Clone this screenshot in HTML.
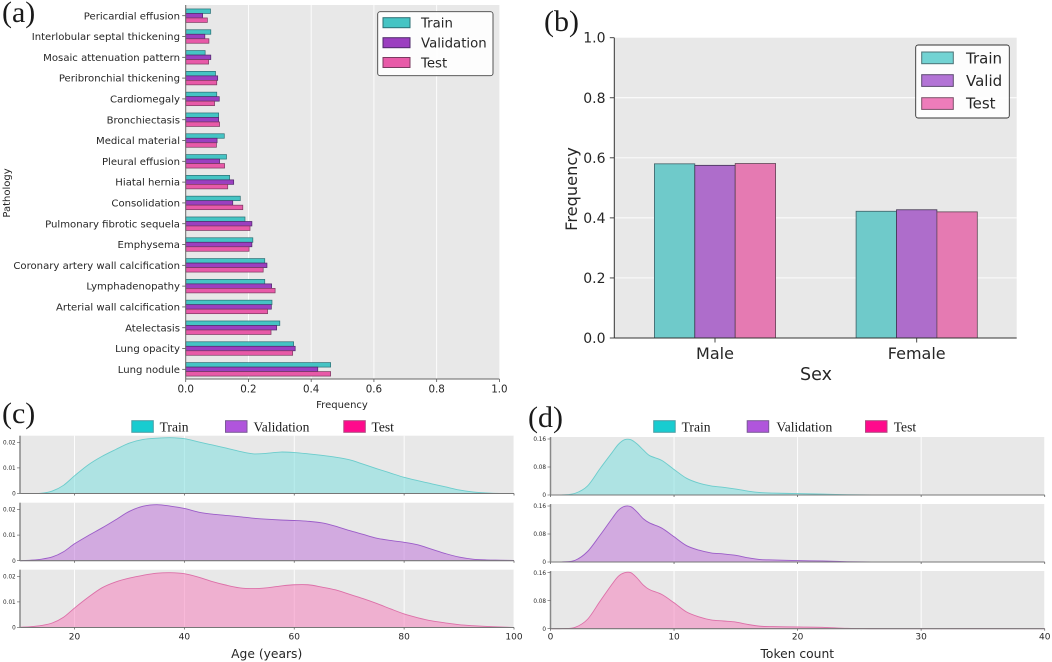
<!DOCTYPE html>
<html>
<head>
<meta charset="utf-8">
<title>Dataset distribution figure</title>
<style>
html,body{margin:0;padding:0;background:#fff;width:1052px;height:662px;overflow:hidden}
svg{display:block;filter:blur(0.35px)}
text{font-family:"DejaVu Sans","Liberation Sans",sans-serif;fill:#262626}
.serif{font-family:"Liberation Serif",serif;fill:#1a1a1a}
</style>
</head>
<body>
<svg id="fig" xmlns="http://www.w3.org/2000/svg" width="1052" height="662" viewBox="0 0 1052 662">
  <g id="pa"></g>
  <g id="pb"></g>
  <g id="pc"></g>
  <g id="pd"></g>

  <text class="serif" x="2" y="22" font-size="30">(a)</text>
  <text class="serif" x="544" y="31" font-size="30">(b)</text>
  <text class="serif" x="2" y="423" font-size="30">(c)</text>
  <text class="serif" x="528" y="427" font-size="30">(d)</text>

  <text x="342" y="408" font-size="10" text-anchor="middle">Frequency</text>
  <text transform="translate(10,193) rotate(-90)" font-size="10" text-anchor="middle">Pathology</text>
  <text x="816" y="380" font-size="17.5" text-anchor="middle">Sex</text>
  <text transform="translate(577,189) rotate(-90)" font-size="16.2" text-anchor="middle">Frequency</text>
  <text x="266.7" y="658" font-size="12.3" text-anchor="middle">Age (years)</text>
  <text x="797.3" y="658" font-size="12.3" text-anchor="middle">Token count</text>

  <g>
    <rect x="377.7" y="11.7" width="115.3" height="64" rx="2.5" fill="#fff" fill-opacity="0.9" stroke="#444" stroke-width="0.9"/>
    <rect x="383" y="17.7" width="27" height="10" fill="#45c4c4" stroke="#2b6f74"/>
    <text x="421" y="27.5" font-size="13.3">Train</text>
    <rect x="383" y="37.7" width="27" height="10" fill="#9b3fc0" stroke="#4f2a6a"/>
    <text x="421" y="47.5" font-size="13.3">Validation</text>
    <rect x="383" y="57.5" width="27" height="10" fill="#e85aa8" stroke="#7a3a60"/>
    <text x="421" y="67.5" font-size="13.3">Test</text>
  </g>

  <g>
    <rect x="915.7" y="45" width="93.6" height="73" rx="2.5" fill="#fff" fill-opacity="0.9" stroke="#333" stroke-width="0.9"/>
    <rect x="921.7" y="52" width="31.6" height="11.7" fill="#72d3d3" stroke="#4d7276"/>
    <text x="966" y="63.5" font-size="15">Train</text>
    <rect x="921.7" y="74.7" width="31.6" height="11.7" fill="#b374d6" stroke="#5d4a70"/>
    <text x="966" y="86" font-size="15">Valid</text>
    <rect x="921.7" y="97.7" width="31.6" height="11.7" fill="#ee7cba" stroke="#7a5068"/>
    <text x="966" y="108.5" font-size="15">Test</text>
  </g>

  <g>
    <rect x="131.8" y="420.7" width="21.5" height="11.6" fill="#18ccd0" stroke="#4a9ea5"/>
    <text class="serif" x="159.6" y="431.5" font-size="13.6">Train</text>
    <rect x="225.5" y="420.7" width="21.5" height="11.6" fill="#b055dc" stroke="#7a5a96"/>
    <text class="serif" x="253.5" y="431.5" font-size="13.6">Validation</text>
    <rect x="343.8" y="420.7" width="21.5" height="11.6" fill="#ff0a8c" stroke="#b04a80"/>
    <text class="serif" x="371.5" y="431.5" font-size="13.6">Test</text>
  </g>

  <g>
    <rect x="653.7" y="420.7" width="21.5" height="11.6" fill="#18ccd0" stroke="#4a9ea5"/>
    <text class="serif" x="681.6" y="431.5" font-size="13.6">Train</text>
    <rect x="747.2" y="420.7" width="21.5" height="11.6" fill="#b055dc" stroke="#7a5a96"/>
    <text class="serif" x="776.4" y="431.5" font-size="13.6">Validation</text>
    <rect x="865.5" y="420.7" width="21.5" height="11.6" fill="#ff0a8c" stroke="#b04a80"/>
    <text class="serif" x="893.7" y="431.5" font-size="13.6">Test</text>
  </g>
</svg>

<script>
// ---- panel (a) data, listed top to bottom ----
const pathologies = ["Pericardial effusion","Interlobular septal thickening","Mosaic attenuation pattern","Peribronchial thickening","Cardiomegaly","Bronchiectasis","Medical material","Pleural effusion","Hiatal hernia","Consolidation","Pulmonary fibrotic sequela","Emphysema","Coronary artery wall calcification","Lymphadenopathy","Arterial wall calcification","Atelectasis","Lung opacity","Lung nodule"];
const pathologyTrain = [0.079,0.080,0.062,0.095,0.099,0.105,0.123,0.130,0.140,0.174,0.189,0.214,0.252,0.252,0.275,0.300,0.344,0.462];
const pathologyValidation = [0.054,0.061,0.080,0.102,0.107,0.105,0.100,0.108,0.153,0.150,0.211,0.211,0.259,0.274,0.273,0.290,0.349,0.421];
const pathologyTest = [0.069,0.074,0.073,0.099,0.092,0.108,0.098,0.124,0.134,0.182,0.205,0.202,0.247,0.285,0.261,0.272,0.341,0.462];
const frequencyTicks = [0,0.2,0.4,0.6,0.8,1];

// ---- panel (b) data ----
const sexes = ["Male","Female"];
const sexTrain = [0.580,0.422];
const sexValid = [0.575,0.427];
const sexTest = [0.581,0.420];

// ---- panel (c) data ----
const ages = [10,12,14,16,18,20,22.5,25,27.5,30,32.5,35,37.5,40,42.5,45,47.5,50,52.5,55,57.5,60,62.5,65,67.5,70,72.5,75,77.5,80,82.5,85,87.5,90,92.5,95,97.5,100];
const ageTrain = [0,0,0.0001,0.001,0.0032,0.0069,0.0112,0.0145,0.0172,0.0197,0.0211,0.0216,0.0218,0.0214,0.0202,0.019,0.0178,0.0165,0.0155,0.0157,0.0162,0.016,0.0155,0.0149,0.0142,0.0132,0.0115,0.0097,0.008,0.0063,0.005,0.0038,0.0026,0.0014,0.0006,0.0002,0,0];
const ageValidation = [0,0.0002,0.0006,0.0015,0.0035,0.0066,0.0098,0.0128,0.016,0.0193,0.0213,0.0219,0.0213,0.0204,0.019,0.0182,0.0177,0.0172,0.0166,0.0162,0.0159,0.0157,0.0154,0.0148,0.0135,0.0118,0.0103,0.0088,0.0079,0.0072,0.0062,0.0045,0.0028,0.0014,0.0006,0.0003,0.0002,0.0001];
const ageTest = [0.0001,0.0003,0.0008,0.0018,0.004,0.0076,0.0118,0.0155,0.0178,0.0193,0.0204,0.0212,0.0214,0.021,0.0197,0.018,0.0166,0.0155,0.0152,0.0155,0.0162,0.0167,0.0167,0.0158,0.0147,0.013,0.0113,0.0094,0.0073,0.0053,0.0038,0.0026,0.0018,0.0011,0.0007,0.0004,0.0002,0];
const ageTicks = [20,40,60,80,100];
const ageDensityTicks = [0,0.01,0.02];
const ageDensityLabels = ["0","0.01","0.02"];

// ---- panel (d) data ----
const tokens = [0,1,2,3,4,5,5.5,6,6.5,7,7.5,8,9,10,11,12,13,14,15,16,17,18,20,22,24,26,30,34,40];
const tokenTrain = [0,0.0005,0.005,0.026,0.075,0.122,0.145,0.158,0.158,0.146,0.129,0.113,0.099,0.073,0.048,0.034,0.026,0.022,0.017,0.011,0.007,0.0055,0.004,0.0025,0.001,0.0002,0,0,0];
const tokenValidation = [0,0.0005,0.005,0.03,0.076,0.125,0.148,0.159,0.158,0.143,0.124,0.112,0.097,0.072,0.047,0.034,0.026,0.023,0.019,0.012,0.007,0.006,0.004,0.003,0.001,0.0002,0,0.0003,0];
const tokenTest = [0,0.0004,0.004,0.027,0.078,0.128,0.15,0.16,0.16,0.145,0.125,0.112,0.098,0.074,0.048,0.034,0.025,0.022,0.019,0.012,0.007,0.006,0.005,0.004,0.001,0.0002,0,0.0002,0];
const tokenTicks = [0,10,20,30,40];
const tokenDensityTicks = [0,0.08,0.16];
const tokenDensityLabels = ["0","0.08","0.16"];

const NS = "http://www.w3.org/2000/svg";
function mk(parent, tag, attrs, txt){
  const e = document.createElementNS(NS, tag);
  for (const k in attrs) e.setAttribute(k, attrs[k]);
  if (txt !== undefined) e.textContent = txt;
  parent.appendChild(e);
  return e;
}

/* ---------- panel a ---------- */
(function(){
  const g = document.getElementById('pa');
  const L = 185.7, R = 499.4, T = 5, B = 379;
  const xA = v => L + v * (R - L);
  const yA = i => 15.7 + i * 20.802;
  const bg = mk(g,'rect',{x:L,y:T,width:R-L,height:B-T,fill:'#e8e8e8'});
  
  
  frequencyTicks.forEach(t => {
    if (t > 0 && t < 1) {
      const gl = mk(g,'line',{x1:xA(t),x2:xA(t),y1:T,y2:B,stroke:'#fff','stroke-width':0.9});
      
      
    }
  });
  const sets = [[pathologyTrain,'#45c4c4','#2b6f74',-4.5,'train'],[pathologyValidation,'#9b3fc0','#4f2a6a',0,'validation'],[pathologyTest,'#e85aa8','#7a3a60',4.5,'test']];
  sets.forEach(s => {
    s[0].forEach((v,i) => {
      const r = mk(g,'rect',{x:L,y:yA(i)+s[3]-2.25,width:xA(v)-L,height:4.5,fill:s[1],stroke:s[2],'stroke-width':0.7});
      
      
    });
  });
  pathologies.forEach((p,i) => {
    const tk = mk(g,'line',{x1:L-3.5,x2:L,y1:yA(i),y2:yA(i),stroke:'#555','stroke-width':0.8});
    
    
    const lb = mk(g,'text',{x:180,y:yA(i)+3.6,'font-size':10.1,'text-anchor':'end'},p);
    
    
  });
  const sl = mk(g,'line',{x1:L,x2:L,y1:T,y2:B,stroke:'#666','stroke-width':1});
  
  
  const sb = mk(g,'line',{x1:L,x2:R,y1:B,y2:B,stroke:'#666','stroke-width':1});
  
  
  frequencyTicks.forEach(t => {
    const tk = mk(g,'line',{x1:xA(t),x2:xA(t),y1:B,y2:B+3,stroke:'#555','stroke-width':0.8});
    
    
    const lb = mk(g,'text',{x:xA(t),y:392.7,'font-size':10.3,'text-anchor':'middle'},t.toFixed(1));
    
    
  });
})();

/* ---------- panel b ---------- */
(function(){
  const g = document.getElementById('pb');
  const L = 614.3, R = 1016.7, T = 37.7, B = 338;
  const yA = v => B - v * (B - T);
  const xA = i => 715 + i * 201.7;
  const bw = 40.4;
  const bg = mk(g,'rect',{x:L,y:T,width:R-L,height:B-T,fill:'#e8e8e8'});
  
  
  frequencyTicks.forEach(t => {
    if (t > 0 && t < 1) {
      const gl = mk(g,'line',{x1:L,x2:R,y1:yA(t),y2:yA(t),stroke:'#fff','stroke-width':0.9});
      
      
    }
  });
  const sets = [[sexTrain,'#6fcaca','#3f5f66',-1,'train'],[sexValid,'#ae6dcb','#3f3350',0,'valid'],[sexTest,'#e57ab2','#5f4455',1,'test']];
  sets.forEach(s => {
    s[0].forEach((v,i) => {
      const r = mk(g,'rect',{x:xA(i)+s[3]*bw-bw/2,y:yA(v),width:bw,height:B-yA(v),fill:s[1],stroke:s[2],'stroke-width':0.8});
      
      
    });
  });
  const sl = mk(g,'line',{x1:L,x2:L,y1:T,y2:B,stroke:'#333','stroke-width':1});
  
  
  const sb = mk(g,'line',{x1:L,x2:R,y1:B,y2:B,stroke:'#333','stroke-width':1});
  
  
  frequencyTicks.forEach(t => {
    const tk = mk(g,'line',{x1:L-4.5,x2:L,y1:yA(t),y2:yA(t),stroke:'#333','stroke-width':0.9});
    
    
    const lb = mk(g,'text',{x:605.5,y:yA(t)+5,'font-size':14,'text-anchor':'end'},t.toFixed(1));
    
    
  });
  sexes.forEach((s,i) => {
    const tk = mk(g,'line',{x1:xA(i),x2:xA(i),y1:B,y2:B+4.5,stroke:'#333','stroke-width':0.9});
    
    
    const lb = mk(g,'text',{x:xA(i),y:359,'font-size':16,'text-anchor':'middle'},s);
    
    
  });
})();

/* ---------- density panels ---------- */
function curvePath(xs, ys){
  let d = 'M' + xs[0].toFixed(2) + ' ' + ys[0].toFixed(2);
  const n = xs.length;
  const slope = i => {
    const a = Math.max(i-1,0), b = Math.min(i+1,n-1);
    return (ys[b]-ys[a])/(xs[b]-xs[a]);
  };
  for (let i=0;i<n-1;i++){
    const dx = xs[i+1]-xs[i];
    d += 'C'+(xs[i]+dx/3).toFixed(2)+' '+(ys[i]+slope(i)*dx/3).toFixed(2)+' '+(xs[i+1]-dx/3).toFixed(2)+' '+(ys[i+1]-slope(i+1)*dx/3).toFixed(2)+' '+xs[i+1].toFixed(2)+' '+ys[i+1].toFixed(2);
  }
  return d;
}
function densityPanel(g, prefix, grid, series, xA, L, R, rows, yPerUnit, xTicks, yTicks, yLabels, labelRight){
  const styles = [['#74dede','#6ccccc','train'],['#bc6cd8','#9b5dc8','validation'],['#f678b8','#dc70a8','test']];
  rows.forEach((row,ri) => {
    const top = row[0], base = row[1];
    const yA = v => base - v * yPerUnit;
    const bg = mk(g,'rect',{x:L,y:top,width:R-L,height:base-top,fill:'#e8e8e8'});
    
    
    xTicks.forEach(t => {
      const gl = mk(g,'line',{x1:xA(t),x2:xA(t),y1:top,y2:base,stroke:'#fff','stroke-width':0.9});
      
      
    });
    const xs = grid.map(xA);
    const ys = series[ri].map(yA);
    const line = curvePath(xs,ys);
    const area = mk(g,'path',{d:line+'L'+xs[xs.length-1]+' '+base+'L'+xs[0]+' '+base+'Z',fill:styles[ri][0],'fill-opacity':0.5});
    
    
    const stroke = mk(g,'path',{d:line,fill:'none',stroke:styles[ri][1],'stroke-width':0.9});
    
    
    const sb = mk(g,'line',{x1:L,x2:R,y1:base,y2:base,stroke:'#777','stroke-width':1.1});
    
    
    const sl = mk(g,'line',{x1:L,x2:L,y1:top,y2:base,stroke:'#888','stroke-width':1.5});
    
    
    xTicks.forEach(t => {
      const tk = mk(g,'line',{x1:xA(t),x2:xA(t),y1:base,y2:base+2,stroke:'#666','stroke-width':0.8});
      
      
    });
    yTicks.forEach((t,i) => {
      const tk = mk(g,'line',{x1:L-3,x2:L,y1:yA(t),y2:yA(t),stroke:'#555','stroke-width':0.6});
      
      
      const lb = mk(g,'text',{x:labelRight,y:yA(t)+2.1,'font-size':5.7,'text-anchor':'end'},yLabels[i]);
      
      
    });
  });
  xTicks.forEach(t => {
    const lb = mk(g,'text',{x:xA(t),y:639.5,'font-size':9,'text-anchor':'middle'},t);
    
    
  });
}
densityPanel(document.getElementById('pc'),'age',ages,[ageTrain,ageValidation,ageTest],
  v => 74.5 + (v-20)*5.494, 20, 514,
  [[435.7,493.5],[502.7,560.7],[569.7,627.5]], 2560,
  ageTicks, ageDensityTicks, ageDensityLabels, 15.7);
densityPanel(document.getElementById('pd'),'token',tokens,[tokenTrain,tokenValidation,tokenTest],
  v => 550.5 + v*12.355, 550.5, 1044.7,
  [[437,495],[504,562],[571,628.7]], 350,
  tokenTicks, tokenDensityTicks, tokenDensityLabels, 546);
</script>
</body>
</html>
